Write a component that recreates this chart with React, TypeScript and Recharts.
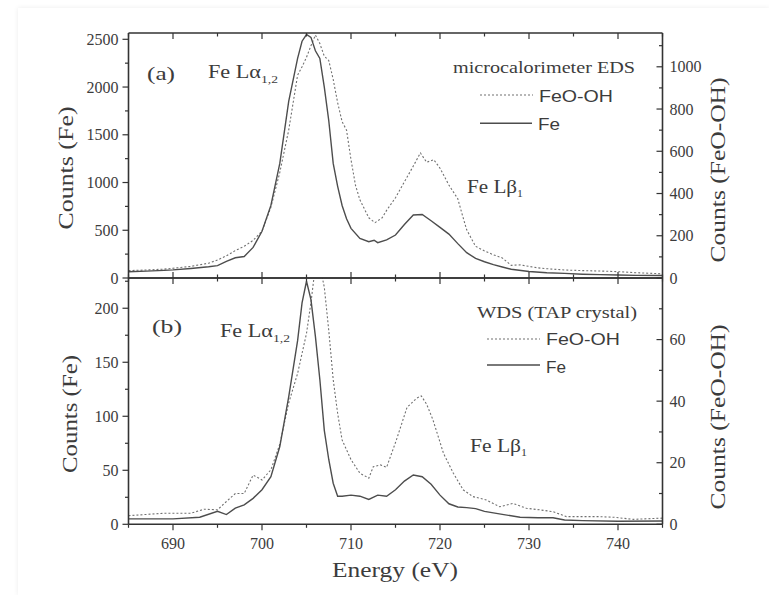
import React from 'react';
import { LineChart, Line, XAxis, YAxis } from 'recharts';

// panel (a): microcalorimeter EDS
const topFeEnergy = [685, 687, 689, 690, 692, 694, 695, 696, 697, 698, 699, 700, 701, 702, 703, 704, 704.5, 705, 705.5, 706, 706.5, 707, 707.5, 708, 708.5, 709, 709.5, 710, 711, 712, 712.6, 713, 714, 715, 716, 717, 718, 719, 720, 721, 722, 723, 724, 725, 726, 727, 728, 730, 732, 734, 736, 738, 740, 742, 745];
const topFeCounts = [65, 72, 80, 85, 100, 118, 130, 175, 212, 225, 320, 490, 760, 1200, 1850, 2300, 2480, 2550, 2520, 2380, 2300, 2000, 1650, 1200, 960, 760, 620, 520, 415, 380, 395, 370, 400, 450, 560, 660, 665, 600, 530, 460, 360, 265, 205, 170, 140, 115, 92, 68, 55, 48, 40, 35, 32, 28, 26];

const topOxEnergy = [685, 687, 689, 690, 692, 694, 695, 696, 697, 698, 699, 700, 701, 702, 703, 704, 704.5, 705, 705.5, 706, 706.5, 707, 707.5, 708, 708.5, 709, 709.5, 710, 710.5, 711, 712, 712.7, 713.5, 714, 715, 716, 717, 717.8, 718.5, 719.3, 720, 721, 722, 722.5, 723, 724, 725, 726, 727, 728, 729, 730, 731, 732, 734, 736, 738, 740, 742, 745];
const topOxCounts = [35, 38, 42, 46, 55, 70, 85, 105, 130, 150, 178, 222, 335, 500, 700, 960, 1000, 1045, 1100, 1150, 1110, 1050, 1030, 940, 830, 740, 700, 560, 440, 370, 285, 262, 285, 320, 380, 455, 530, 592, 548, 560, 520, 440, 375, 300, 228, 150, 128, 110, 95, 60, 62, 55, 48, 44, 38, 35, 33, 30, 25, 20];

// panel (b): WDS (TAP crystal)
const botFeEnergy = [685, 688, 690, 693, 695, 696, 697, 698, 699, 700, 701, 702, 703, 704, 704.5, 705, 705.5, 706, 706.5, 707, 707.5, 708, 708.5, 709, 710, 711, 712, 713, 714, 715, 716, 717, 718, 719, 720, 721, 722, 723, 724, 725, 727, 729, 731, 732.7, 734, 736, 740, 745];
const botFeCounts = [5, 5, 5, 6.5, 12, 9, 15, 18, 24, 32, 44, 72, 118, 170, 205, 225, 208, 174, 134, 87, 60, 38, 26, 26, 27, 26, 23, 27, 26, 32, 40, 45.6, 44, 37, 27, 19, 16, 15.4, 14.5, 12, 9.2, 6.5, 6, 6, 4, 3.4, 2.8, 3];

const botOxEnergy = [685, 689, 692, 693.5, 695, 696, 697, 698, 699, 700, 701, 702, 703, 704, 705, 705.5, 706, 706.5, 707, 707.5, 708, 708.5, 709, 710, 711, 712, 712.5, 713.3, 714, 715.1, 716.3, 717.4, 717.9, 718.5, 719.2, 720.4, 721.5, 722.6, 723.7, 725.2, 726.7, 728.2, 729.7, 731.2, 732.7, 734.2, 737.6, 739.5, 741.7, 745];
const botOxCounts = [2.8, 3.6, 3.6, 4.9, 4.7, 7.4, 10, 10, 16, 14.4, 17.7, 26, 39.4, 49, 62, 72, 84, 84, 77, 63, 47, 36, 27.4, 21, 16.6, 15, 18.7, 19.3, 18.5, 27.4, 38, 41, 41.7, 39, 34, 23, 16.6, 11.2, 9, 7.9, 5.7, 6.8, 5.2, 4.7, 4.1, 2.5, 2.5, 2.3, 1.6, 2];

const energyTicks = [685, 690, 695, 700, 705, 710, 715, 720, 725, 730, 735, 740, 745];
const topLeftTicks = [0, 250, 500, 750, 1000, 1250, 1500, 1750, 2000, 2250, 2500];
const topRightTicks = [0, 100, 200, 300, 400, 500, 600, 700, 800, 900, 1000, 1100];
const botLeftTicks = [0, 25, 50, 75, 100, 125, 150, 175, 200, 225];
const botRightTicks = [0, 10, 20, 30, 40, 50, 60, 70];

const toPoints = (es: number[], vs: number[]) => es.map((e, i) => ({ e, v: vs[i] }));

const SERIF = "'Liberation Serif', 'Times New Roman', serif";
const SANS = "'Liberation Sans', Arial, sans-serif";
const INK = '#333';
const TXT = '#3c3c3c';
const FE_COLOR = '#4d4d4d';
const OX_COLOR = '#707070';

const isStep = (v: number, step: number) => Math.abs(v / step - Math.round(v / step)) < 1e-6;

type Side = 'left' | 'right' | 'bottom' | 'up' | 'down';

// tick marks drawn by hand so minor ticks can be shorter and right/inner ticks point inward
const makeTick = (side: Side, major: number, label: number | null) => (props: any) => {
  const { x, y, payload } = props;
  const v = payload.value as number;
  const len = isStep(v, major) ? 6 : 3.5;
  const show = label !== null && isStep(v, label);
  const txt = { fill: TXT, fontFamily: SERIF, fontSize: 16 };
  if (side === 'left') {
    return (
      <g>
        <line x1={x - len} x2={x} y1={y} y2={y} stroke={INK} strokeWidth={1.2} />
        {show && <text x={x - 10} y={y} dy="0.35em" textAnchor="end" {...txt}>{v}</text>}
      </g>
    );
  }
  if (side === 'right') {
    return (
      <g>
        <line x1={x - len} x2={x} y1={y} y2={y} stroke={INK} strokeWidth={1.2} />
        {show && <text x={x + 7} y={y} dy="0.35em" textAnchor="start" {...txt}>{v}</text>}
      </g>
    );
  }
  if (side === 'bottom') {
    return (
      <g>
        <line x1={x} x2={x} y1={y} y2={y + len} stroke={INK} strokeWidth={1.2} />
        {show && <text x={x} y={y + 25} textAnchor="middle" {...txt}>{v}</text>}
      </g>
    );
  }
  if (side === 'up') {
    return <line x1={x} x2={x} y1={y - len} y2={y} stroke={INK} strokeWidth={1.2} />;
  }
  return <line x1={x} x2={x} y1={y} y2={y + len} stroke={INK} strokeWidth={1.2} />;
};

const axisLine = { stroke: INK, strokeWidth: 1.6 };

const App: React.FC = () => {
  const topFe = toPoints(topFeEnergy, topFeCounts);
  const topOx = toPoints(topOxEnergy, topOxCounts);
  const botFe = toPoints(botFeEnergy, botFeCounts);
  const botOx = toPoints(botOxEnergy, botOxCounts);

  return (
    <div style={{ position: 'absolute', left: 0, top: 0, width: 769, height: 595, background: '#fff' }}>
      <div style={{ position: 'absolute', left: 18, top: 8, right: 0, bottom: 0, boxShadow: '0 0 5px rgba(0,0,0,0.08)' }} />

      <div style={{ position: 'absolute', left: 0, top: 240 }}>
        <LineChart width={769} height={355} margin={{ top: 37, right: 26.5, bottom: 30.7, left: 3.5 }}>
          <XAxis xAxisId="x" type="number" dataKey="e" domain={[685, 745]} ticks={energyTicks} interval={0}
            height={40} tickSize={0} tickMargin={0} axisLine={axisLine} tickLine={false} tick={makeTick('bottom', 10, 10)} allowDataOverflow />
          <XAxis xAxisId="t" type="number" dataKey="e" orientation="top" domain={[685, 745]} ticks={energyTicks} interval={0}
            height={1} tickSize={0} tickMargin={0} axisLine={axisLine} tickLine={false} tick={makeTick('down', 10, null)} allowDataOverflow />
          <YAxis yAxisId="l" domain={[0, 228]} ticks={botLeftTicks} interval={0} width={125}
            tickSize={0} tickMargin={0} axisLine={axisLine} tickLine={false} tick={makeTick('left', 50, 50)} allowDataOverflow />
          <YAxis yAxisId="r" orientation="right" domain={[0, 80]} ticks={botRightTicks} interval={0} width={80}
            tickSize={0} tickMargin={0} axisLine={axisLine} tickLine={false} tick={makeTick('right', 20, 20)} allowDataOverflow />
          <Line data={botOx} dataKey="v" xAxisId="x" yAxisId="r" type="linear" stroke={OX_COLOR} strokeWidth={1.1}
            strokeDasharray="2 2" dot={false} activeDot={false} isAnimationActive={false} />
          <Line data={botFe} dataKey="v" xAxisId="x" yAxisId="l" type="linear" stroke={FE_COLOR} strokeWidth={1.4}
            dot={false} activeDot={false} isAnimationActive={false} />
        </LineChart>
      </div>

      <div style={{ position: 'absolute', left: 0, top: 0 }}>
        <LineChart width={769} height={292} margin={{ top: 32, right: 26.5, bottom: 13, left: 3.5 }}>
          <XAxis xAxisId="x" type="number" dataKey="e" domain={[685, 745]} ticks={energyTicks} interval={0}
            height={1} tickSize={0} tickMargin={0} axisLine={axisLine} tickLine={false} tick={makeTick('up', 10, null)} allowDataOverflow />
          <XAxis xAxisId="t" type="number" dataKey="e" orientation="top" domain={[685, 745]} ticks={energyTicks} interval={0}
            height={1} tickSize={0} tickMargin={0} axisLine={axisLine} tickLine={false} tick={makeTick('down', 10, null)} allowDataOverflow />
          <YAxis yAxisId="l" domain={[0, 2566]} ticks={topLeftTicks} interval={0} width={125}
            tickSize={0} tickMargin={0} axisLine={axisLine} tickLine={false} tick={makeTick('left', 500, 500)} allowDataOverflow />
          <YAxis yAxisId="r" orientation="right" domain={[0, 1160]} ticks={topRightTicks} interval={0} width={80}
            tickSize={0} tickMargin={0} axisLine={axisLine} tickLine={false} tick={makeTick('right', 200, 200)} allowDataOverflow />
          <Line data={topOx} dataKey="v" xAxisId="x" yAxisId="r" type="linear" stroke={OX_COLOR} strokeWidth={1.1}
            strokeDasharray="2 2" dot={false} activeDot={false} isAnimationActive={false} />
          <Line data={topFe} dataKey="v" xAxisId="x" yAxisId="l" type="linear" stroke={FE_COLOR} strokeWidth={1.4}
            dot={false} activeDot={false} isAnimationActive={false} />
        </LineChart>
      </div>

      <svg width={769} height={595} style={{ position: 'absolute', left: 0, top: 0, pointerEvents: 'none' }}>
        <g fill={TXT} fontFamily={SERIF}>
          {/* panel (a) */}
          <text x={147} y={80} fontSize={19} textLength={28} lengthAdjust="spacingAndGlyphs">(a)</text>
          <text x={208} y={78} fontSize={18} textLength={70} lengthAdjust="spacingAndGlyphs">
            Fe Lα<tspan fontSize={11} dy={5}>1,2</tspan>
          </text>
          <text x={453} y={73} fontSize={17} textLength={182} lengthAdjust="spacingAndGlyphs">microcalorimeter EDS</text>
          <text x={467} y={193} fontSize={18} textLength={56} lengthAdjust="spacingAndGlyphs">
            Fe Lβ<tspan fontSize={10} dy={4}>1</tspan>
          </text>
          <text transform="rotate(-90 73 168)" x={73} y={168} fontSize={22} textAnchor="middle" textLength={123} lengthAdjust="spacingAndGlyphs">Counts (Fe)</text>
          <text transform="rotate(-90 725 170)" x={725} y={170} fontSize={22} textAnchor="middle" textLength={185} lengthAdjust="spacingAndGlyphs">Counts (FeO-OH)</text>

          {/* panel (b) */}
          <text x={152} y={333} fontSize={19} textLength={30} lengthAdjust="spacingAndGlyphs">(b)</text>
          <text x={220} y={337} fontSize={18} textLength={70} lengthAdjust="spacingAndGlyphs">
            Fe Lα<tspan fontSize={11} dy={5}>1,2</tspan>
          </text>
          <text x={477} y={318} fontSize={17} textLength={160} lengthAdjust="spacingAndGlyphs">WDS (TAP crystal)</text>
          <text x={470} y={452} fontSize={18} textLength={57} lengthAdjust="spacingAndGlyphs">
            Fe Lβ<tspan fontSize={10} dy={4}>1</tspan>
          </text>
          <text transform="rotate(-90 77 414)" x={77} y={414} fontSize={22} textAnchor="middle" textLength={118} lengthAdjust="spacingAndGlyphs">Counts (Fe)</text>
          <text transform="rotate(-90 725 417)" x={725} y={417} fontSize={22} textAnchor="middle" textLength={185} lengthAdjust="spacingAndGlyphs">Counts (FeO-OH)</text>
          <text x={395} y={577} fontSize={22} textAnchor="middle" textLength={126} lengthAdjust="spacingAndGlyphs">Energy (eV)</text>
        </g>

        {/* legends */}
        <g fontFamily={SANS} fill={TXT} fontSize={16}>
          <line x1={480} x2={533} y1={95} y2={95} stroke={OX_COLOR} strokeWidth={1.1} strokeDasharray="2 2" />
          <text x={539} y={101.5} textLength={74} lengthAdjust="spacingAndGlyphs">FeO-OH</text>
          <line x1={480} x2={532} y1={123.3} y2={123.3} stroke={FE_COLOR} strokeWidth={1.4} />
          <text x={538} y={130} textLength={22} lengthAdjust="spacingAndGlyphs">Fe</text>

          <line x1={487} x2={540} y1={339} y2={339} stroke={OX_COLOR} strokeWidth={1.1} strokeDasharray="2 2" />
          <text x={546} y={345} textLength={74} lengthAdjust="spacingAndGlyphs">FeO-OH</text>
          <line x1={487} x2={540} y1={365} y2={365} stroke={FE_COLOR} strokeWidth={1.4} />
          <text x={546} y={372.5} textLength={20} lengthAdjust="spacingAndGlyphs">Fe</text>
        </g>
      </svg>
    </div>
  );
};

export default App;
